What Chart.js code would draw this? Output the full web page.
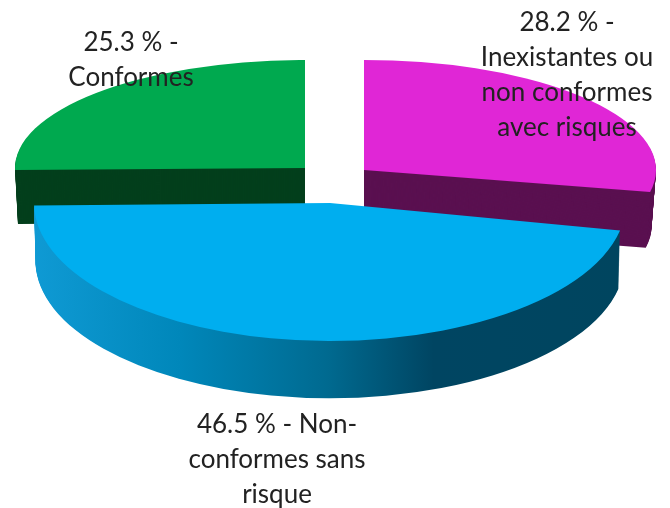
<!DOCTYPE html>
<html>
<head>
<meta charset="utf-8">
<script src="https://cdn.jsdelivr.net/npm/chart.js@4"></script>
<style>
    html, body { margin: 0; padding: 0; background: #fff; }
    #wrap { width: 670px; height: 508px; }
    canvas { filter: blur(0.5px); }
</style>
</head>
<body>
<div id="wrap"><canvas id="pie" width="670" height="508"></canvas></div>
<script>
const categories = ['Inexistantes ou non conformes avec risques', 'Non-conformes sans risque', 'Conformes'];
const shares = [28.2, 46.5, 25.3];
const topColors = ['#e026d6', '#00aeef', '#00a94f'];
const sideColors = ['#5a1050', null, '#033f1c'];

// each slice is pulled out and foreshortened on its own, nearer slice looks bigger
const SLICE_VIEW = [
    { cx: 364, cy: 170, rx: 292, ry: 110, depth: 56, shrink: 0.985 },
    { cx: 330, cy: 203, rx: 296, ry: 138, depth: 58, shrink: 0.995 },
    { cx: 305, cy: 168, rx: 290, ry: 108, depth: 54, shrink: 0.99 }
];
const DRAW_ORDER = [0, 2, 1];

const LABEL_LINES = [
    { x: 567, y: 23, lines: ['28.2 % -', 'Inexistantes ou', 'non conformes', 'avec risques'] },
    { x: 277, y: 425, lines: ['46.5 % - Non-', 'conformes sans', 'risque'] },
    { x: 131, y: 43, lines: ['25.3 % -', 'Conformes'] }
];

function tracePie(ctx, el, view, grow, dy) {
    const R = el.outerRadius;
    ctx.save();
    ctx.translate(view.cx, view.cy + dy);
    ctx.scale(view.rx * grow / R, view.ry * grow / R);
    ctx.beginPath();
    ctx.moveTo(0, 0);
    ctx.arc(0, 0, R, el.startAngle, el.endAngle);
    ctx.closePath();
    ctx.restore();
}

const pie3d = {
    id: 'pie3d',
    beforeDatasetDraw(chart) {
        const ctx = chart.ctx;
        const arcs = chart.getDatasetMeta(0).data;
        const blueSide = ctx.createLinearGradient(33, 0, 622, 0);
        blueSide.addColorStop(0, '#0f9ad4');
        blueSide.addColorStop(0.25, '#0087ba');
        blueSide.addColorStop(0.5, '#006a90');
        blueSide.addColorStop(0.68, '#004562');
        blueSide.addColorStop(1, '#00455f');
        DRAW_ORDER.forEach(i => {
            const view = SLICE_VIEW[i];
            ctx.fillStyle = sideColors[i] || blueSide;
            for (let d = view.depth; d > 0; d--) {
                tracePie(ctx, arcs[i], view, 1 - (1 - view.shrink) * d / view.depth, d);
                ctx.fill();
            }
            ctx.fillStyle = topColors[i];
            tracePie(ctx, arcs[i], view, 1, 0);
            ctx.fill();
        });
        return false;
    },
    afterDraw(chart) {
        const ctx = chart.ctx;
        ctx.save();
        ctx.font = '26px Lato';
        ctx.fillStyle = '#222222';
        ctx.textAlign = 'center';
        ctx.textBaseline = 'middle';
        LABEL_LINES.forEach(label => {
            label.lines.forEach((line, n) => ctx.fillText(line, label.x, label.y + n * 35));
        });
        ctx.restore();
    }
};

new Chart(document.getElementById('pie'), {
    type: 'pie',
    data: { labels: categories, datasets: [{ data: shares, backgroundColor: topColors, borderWidth: 0 }] },
    options: {
        responsive: false,
        animation: false,
        rotation: 0,
        plugins: { legend: { display: false }, tooltip: { enabled: false } }
    },
    plugins: [pie3d]
});
</script>
</body>
</html>
